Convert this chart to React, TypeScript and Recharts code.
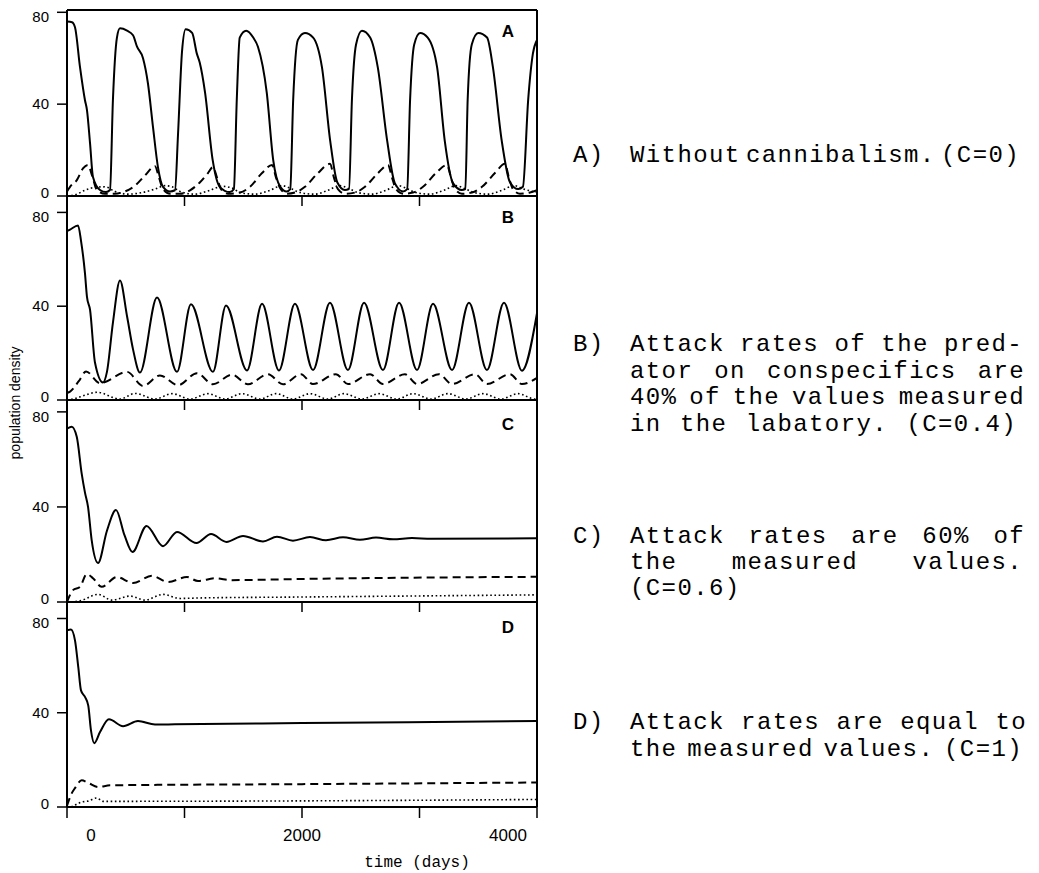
import React from 'react';
import { LineChart, Line, XAxis, YAxis, ReferenceLine } from 'recharts';

type Pt = [number, number];

// time (days), population density

// A) C = 0
const aSolid: Pt[] = [
  [0, 76], [43, 75.7], [68, 73.5], [111, 56], [153, 41.7], [170, 37.4], [196, 23], [221, 8.3], [281, 2.6], [332, 1.7],
  [366, 2.6], [391, 42], [425, 69], [451, 73], [511, 72], [562, 70], [596, 65], [647, 60], [689, 49], [732, 30],
  [774, 12.6], [817, 4], [877, 2], [919, 2.5], [945, 27], [979, 63], [1010, 72.6], [1065, 71], [1105, 62], [1130, 58],
  [1175, 45], [1240, 15.6], [1300, 4], [1385, 1.7], [1420, 3], [1445, 42], [1470, 69], [1525, 72], [1585, 69], [1625, 65],
  [1700, 45], [1755, 15.6], [1815, 4], [1870, 2], [1900, 3], [1925, 42], [1965, 68], [2025, 71], [2095, 69], [2170, 56],
  [2240, 24], [2300, 6], [2365, 2.6], [2400, 3], [2425, 42], [2460, 66], [2510, 72], [2580, 69], [2645, 56], [2725, 24],
  [2790, 5.6], [2860, 2], [2895, 3], [2920, 42], [2955, 66], [3005, 71], [3070, 69], [3150, 56], [3215, 24], [3285, 5.6],
  [3360, 2.6], [3390, 3], [3410, 42], [3445, 66], [3500, 71], [3575, 69], [3625, 56], [3700, 24], [3770, 6], [3840, 3],
  [3880, 4], [3925, 42], [3965, 62], [4000, 68],
];
const aDashed: Pt[] = [
  [0, 2], [26, 4], [85, 7], [136, 12], [179, 13.5], [213, 9], [255, 2.6], [323, 1], [408, 1], [494, 2],
  [579, 4.5], [664, 9], [749, 13], [783, 8], [817, 3], [877, 1], [962, 1], [1047, 2.5], [1132, 6], [1200, 10],
  [1242, 12.6], [1277, 8], [1311, 3], [1370, 1], [1472, 1.5], [1557, 4], [1660, 10], [1745, 13.5], [1779, 8], [1813, 3.5],
  [1872, 1], [1940, 1.5], [2025, 4], [2136, 10], [2238, 14], [2272, 8], [2306, 3], [2366, 1], [2451, 1.5], [2536, 4],
  [2647, 10], [2732, 13.5], [2766, 8], [2800, 3], [2860, 1], [2945, 1.5], [3030, 4], [3140, 10], [3234, 13.5], [3268, 8],
  [3302, 3], [3361, 1], [3447, 1.5], [3532, 4], [3642, 10], [3727, 14], [3761, 8], [3795, 3], [3855, 1], [3940, 1.5],
  [4000, 2.5],
];
const aDotted: Pt[] = [
  [0, 0], [68, 0.5], [153, 2.5], [238, 3.8], [323, 4], [408, 2], [519, 0.8], [638, 1.5], [749, 3], [834, 4.5],
  [894, 4], [962, 2], [1089, 0.8], [1217, 2.5], [1319, 4.2], [1404, 3.5], [1472, 1.5], [1600, 0.8], [1728, 2.5], [1830, 4.5],
  [1915, 3], [1983, 1.5], [2110, 0.8], [2221, 2.5], [2323, 4.5], [2408, 3], [2476, 1.5], [2596, 0.8], [2715, 2.5], [2817, 4.5],
  [2902, 3], [2970, 1.5], [3089, 0.8], [3208, 2.5], [3310, 4.5], [3395, 3], [3464, 1.5], [3583, 0.8], [3702, 2.5], [3804, 4.5],
  [3889, 3], [4000, 1.5],
];

// B) C = 0.4
const bSolid: Pt[] = [
  [0, 72], [26, 72.7], [94, 74.4], [119, 68], [153, 54], [170, 44], [196, 38.5], [238, 16], [306, 7.5], [340, 12],
  [391, 33], [451, 51], [511, 35.7], [562, 21.6], [621, 11.7], [766, 43.7], [936, 12], [1055, 40.8], [1242, 12], [1353, 40.3],
  [1532, 12.6], [1660, 41], [1804, 12.6], [1940, 41], [2094, 12.8], [2238, 41.5], [2391, 12.8], [2528, 41.5], [2689, 12.8], [2826, 41.5],
  [2979, 12.8], [3115, 41], [3277, 12.8], [3421, 41.5], [3574, 12.8], [3719, 41.5], [3872, 12.5], [4000, 37],
];
const bDashed: Pt[] = [
  [0, 3], [26, 3.6], [100, 8], [162, 12.2], [281, 7.2], [511, 12], [647, 6], [791, 10.5], [945, 6.3], [1106, 11.4],
  [1242, 6.7], [1404, 10.8], [1540, 6.7], [1710, 11], [1838, 6.7], [1991, 11], [2093, 6.8], [2289, 11], [2391, 6.8], [2579, 11],
  [2689, 6.8], [2876, 11], [2979, 6.8], [3166, 11], [3276, 6.8], [3472, 11], [3574, 6.8], [3770, 11], [3872, 6.8], [4000, 9.5],
];
const bDotted: Pt[] = [
  [0, 0], [60, 0.5], [150, 2], [255, 3.3], [451, 0.4], [579, 2.8], [749, 0.4], [894, 2.7], [1047, 0.4], [1200, 2.7],
  [1345, 0.4], [1489, 2.7], [1642, 0.4], [1779, 2.7], [1923, 0.4], [2068, 2.7], [2221, 0.4], [2357, 2.7], [2511, 0.4], [2655, 2.7],
  [2808, 0.4], [2945, 2.7], [3098, 0.4], [3242, 2.7], [3395, 0.4], [3540, 2.7], [3693, 0.4], [3838, 2.7], [3983, 0.4], [4000, 0.4],
];

// C) C = 0.6
const cSolid: Pt[] = [
  [0, 73], [40, 73.7], [83, 69.5], [125, 54], [153, 46], [179, 40], [210, 26], [264, 16.4], [340, 30], [417, 38.7],
  [490, 28], [557, 21], [677, 32], [817, 23.5], [936, 29.5], [1102, 24.8], [1226, 28.6], [1357, 25.3], [1498, 27.8], [1668, 25.5],
  [1787, 27.5], [1923, 25.8], [2068, 27.3], [2204, 26], [2349, 27.2], [2493, 26.2], [2630, 27.1], [2775, 26.4], [2936, 26.9], [3100, 26.6],
  [4000, 26.8],
];
const cDashed: Pt[] = [
  [0, 0], [51, 5], [111, 6.4], [168, 11.8], [221, 10], [295, 6.4], [423, 10.5], [562, 8], [723, 11], [860, 8.4],
  [1021, 10.5], [1115, 8.8], [1259, 10], [1400, 9.2], [2000, 9.7], [4000, 10.6],
];
const cDotted: Pt[] = [
  [0, 0], [111, 0.5], [264, 3.2], [383, 0.8], [536, 2.5], [664, 0.8], [817, 3.2], [962, 1.5], [1132, 1.7], [2000, 2.1],
  [4000, 3],
];

// D) C = 1
const dSolid: Pt[] = [
  [0, 75], [34, 75.3], [68, 70.7], [96, 59.4], [119, 49.5], [153, 46.7], [181, 43], [204, 32.5], [232, 27.1], [281, 31.8],
  [357, 37.2], [477, 34.3], [604, 36.5], [749, 35], [919, 35.1], [2000, 35.6], [4000, 36.5],
];
const dDashed: Pt[] = [
  [0, 0.5], [40, 5.8], [68, 8], [125, 11.3], [181, 10.2], [266, 8.5], [366, 9.2], [2000, 9.7], [4000, 10.4],
];
const dDotted: Pt[] = [
  [0, 0], [43, 0.2], [94, 1.5], [125, 2.1], [179, 2.5], [253, 3.8], [306, 2.4], [2000, 2.6], [4000, 3.2],
];

const yTicks = [0, 40, 80];
const xTicks = [0, 1000, 2000, 3000, 4000];
const xTickLabels: Record<number, string> = { 0: '0', 2000: '2000', 4000: '4000' };

const captions = [
  { tag: 'A)', lines: ['Without cannibalism. (C=0)'] },
  { tag: 'B)', lines: ['Attack rates of the pred-', 'ator on conspecifics are', '40% of the values measured', 'in the labatory. (C=0.4)'] },
  { tag: 'C)', lines: ['Attack rates are 60% of', 'the measured values.', '(C=0.6)'] },
  { tag: 'D)', lines: ['Attack rates are equal to', 'the measured values. (C=1)'] },
];

// layout
const panels = [
  { letter: 'A', solid: aSolid, dashed: aDashed, dotted: aDotted, yMax: 81, top: 0, marginTop: 10, plotH: 186, axisH: 14, letterY: 32, topBorder: true },
  { letter: 'B', solid: bSolid, dashed: bDashed, dotted: bDotted, yMax: 87, top: 196, marginTop: 0, plotH: 204, axisH: 14, letterY: 218, topBorder: false },
  { letter: 'C', solid: cSolid, dashed: cDashed, dotted: cDotted, yMax: 85, top: 400, marginTop: 0, plotH: 202, axisH: 14, letterY: 425, topBorder: false },
  { letter: 'D', solid: dSolid, dashed: dDashed, dotted: dDotted, yMax: 87, top: 602, marginTop: 0, plotH: 205, axisH: 60, letterY: 628, topBorder: false },
];
// caption line centres and right ends (px)
const captionRows = [
  [{ y: 156, end: 1020 }],
  [{ y: 345, end: 1023 }, { y: 372, end: 1025 }, { y: 398, end: 1025 }, { y: 425, end: 1017 }],
  [{ y: 537, end: 1025 }, { y: 563, end: 1023 }, { y: 589, end: 0 }],
  [{ y: 723, end: 1027 }, { y: 750, end: 1023 }],
];

const CHART_W = 545;
const SANS = '"Liberation Sans", Arial, Helvetica, sans-serif';
const MONO = '"Liberation Mono", "Courier New", monospace';
const CAP_FONT = 24;
const CAP_LINE = 22;
const PITCH = 15.8;
const TEXT_X = 630;
const yLabelShift: Record<number, number> = { 0: -3, 40: 0, 80: 5 };

const toPts = (arr: Pt[]) => arr.map(([t, v]) => ({ t, v }));

const NoTick = () => null;

const BottomTick = (props: any) => {
  const { x, y, payload } = props;
  const label = xTickLabels[payload.value];
  if (!label) return null;
  const shift = payload.value === 0 ? 24 : payload.value === 4000 ? -29 : 0;
  return (
    <text x={x + shift} y={y + 21} textAnchor="middle" fontSize={17} fontFamily={SANS} fill="#000">
      {label}
    </text>
  );
};

const LeftTick = (props: any) => {
  const { x, y, payload } = props;
  return (
    <text x={x} y={y + 5 + (yLabelShift[payload.value] || 0)} textAnchor="end" fontSize={15} fontFamily={SANS} fill="#000">
      {payload.value}
    </text>
  );
};

const Panel = ({ p }: { p: (typeof panels)[number] }) => {
  const isLast = p.letter === 'D';
  const h = p.marginTop + p.plotH + p.axisH;
  return (
    <div style={{ position: 'absolute', left: 0, top: p.top, width: CHART_W, height: h }}>
      <LineChart width={CHART_W} height={h} margin={{ top: p.marginTop, right: 8, bottom: 0, left: 10 }}>
        <XAxis
          dataKey="t"
          type="number"
          domain={[0, 4000]}
          ticks={xTicks}
          interval={0}
          allowDataOverflow
          height={p.axisH}
          tickSize={isLast ? 11 : 10}
          axisLine={{ stroke: '#000', strokeWidth: 2 }}
          tickLine={{ stroke: '#000', strokeWidth: 1.5 }}
          tick={isLast ? <BottomTick /> : <NoTick />}
        />
        <YAxis
          type="number"
          domain={[0, p.yMax]}
          ticks={yTicks}
          interval={0}
          allowDataOverflow
          width={57}
          tickSize={10}
          tickMargin={8}
          axisLine={{ stroke: '#000', strokeWidth: 2 }}
          tickLine={{ stroke: '#000', strokeWidth: 1.5 }}
          tick={<LeftTick />}
        />
        <ReferenceLine x={4000} stroke="#000" strokeWidth={2} />
        {p.topBorder && <ReferenceLine y={p.yMax} stroke="#000" strokeWidth={2} />}
        <Line data={toPts(p.dotted)} dataKey="v" type="monotone" stroke="#000" strokeWidth={1.6}
          strokeDasharray="1.6 2.6" dot={false} isAnimationActive={false} />
        <Line data={toPts(p.dashed)} dataKey="v" type="monotone" stroke="#000" strokeWidth={2}
          strokeDasharray="8 5" dot={false} isAnimationActive={false} />
        <Line data={toPts(p.solid)} dataKey="v" type="monotone" stroke="#000" strokeWidth={2}
          dot={false} isAnimationActive={false} />
      </LineChart>
    </div>
  );
};

const textLine = (text: string, cy: number, end: number, left: number) => {
  const natural = text.length * PITCH;
  const gaps = (text.match(/ /g) || []).length;
  const ws = end > 0 && gaps > 0 ? (end - left - natural) / gaps : 0;
  return (
    <div
      key={`${text}-${cy}`}
      style={{
        position: 'absolute',
        left,
        top: cy - CAP_LINE / 2,
        height: CAP_LINE,
        lineHeight: `${CAP_LINE}px`,
        fontFamily: MONO,
        fontSize: CAP_FONT,
        letterSpacing: PITCH - CAP_FONT * 0.6,
        wordSpacing: ws,
        whiteSpace: 'pre',
        color: '#000',
      }}
    >
      {text}
    </div>
  );
};

export default function App() {
  return (
    <div style={{ position: 'absolute', left: 0, top: 0, width: 1039, height: 873, background: '#fff', overflow: 'hidden' }}>
      {panels.map((p) => (
        <Panel key={p.letter} p={p} />
      ))}
      {panels.map((p) => (
        <div
          key={`l-${p.letter}`}
          style={{
            position: 'absolute', left: 498, top: p.letterY - 11, width: 20, height: 22, lineHeight: '22px',
            textAlign: 'center', fontFamily: SANS, fontSize: 17, fontWeight: 700, color: '#000',
          }}
        >
          {p.letter}
        </div>
      ))}
      <div
        style={{
          position: 'absolute', left: 15 - 80, top: 403 - 10, width: 160, height: 20, lineHeight: '20px',
          textAlign: 'center', transform: 'rotate(-90deg)', fontFamily: SANS, fontSize: 14, color: '#000',
        }}
      >
        population density
      </div>
      <div
        style={{
          position: 'absolute', left: 417 - 70, top: 863 - 11, width: 140, height: 22, lineHeight: '22px',
          textAlign: 'center', fontFamily: MONO, fontSize: 16, color: '#000',
        }}
      >
        time (days)
      </div>
      {captions.map((c, i) => (
        <React.Fragment key={c.tag}>
          {textLine(c.tag, captionRows[i][0].y, 0, 573)}
          {c.lines.map((ln, j) => textLine(ln, captionRows[i][j].y, captionRows[i][j].end, TEXT_X))}
        </React.Fragment>
      ))}
    </div>
  );
}
